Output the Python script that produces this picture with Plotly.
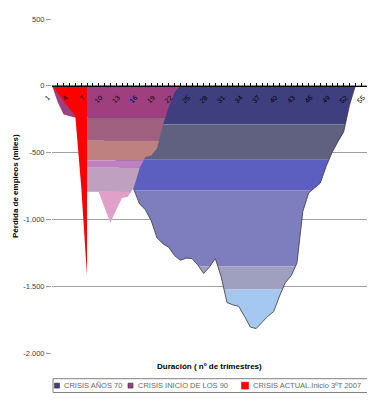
import plotly.graph_objects as go

# ---------------- data (thousands of jobs lost, by quarter of duration) ----------------
crisis70_q = list(range(1, 54))
crisis70 = [0, -30, -60, -90, -130, -170, -220, -280, -340, -410,
            -480, -560, -640, -710, -773, -883, -928, -1009, -1138, -1182,
            -1208, -1271, -1306, -1290, -1293, -1341, -1405, -1356, -1293, -1430,
            -1622, -1640, -1651, -1725, -1806, -1817, -1770, -1725, -1690, -1574,
            -1474, -1422, -1326, -940, -802, -765, -728, -603, -500, -418,
            -345, -145, 0]

crisis90_q = list(range(1, 24))
crisis90 = [0, -125, -215, -225, -235, -300, -793, -793, -793, -910,
            -1026, -930, -840, -830, -765, -617, -532, -522, -470, -295,
            -160, -50, 0]

actual_q = list(range(1, 8))
actual = [0, -55, -112, -170, -227, -750, -1420]

series_names = ["CRISIS AÑOS 70", "CRISIS INICIO DE LOS 90", "CRISIS ACTUAL.Inicio 3ºT 2007"]

y_ticks = [-2000, -1500, -1000, -500, 0, 500]
y_ticktext = ["-2.000", "-1.500", "-1.000", "-500", "0", "500"]

# ---------------- styling ----------------
bands70 = [(0, -289, "#3f3f7f"), (-289, -553, "#606080"), (-553, -781, "#5c5fbf"),
           (-781, -1352, "#7e7ebe"), (-1352, -1524, "#9f9fbf"), (-1524, -1e9, "#a4c8f0")]
bands90 = [(0, -239, "#9f3f80"), (-239, -411, "#a06080"), (-411, -559, "#bf8080"),
           (-559, -613, "#c080c0"), (-613, -795, "#c0a0c0"), (-795, -1e9, "#e0a0c8")]
RED = "#ff0000"
FONT = "Liberation Sans"


def band_polygon(xs, ys, top, bot):
    px, py = [xs[0]], [ys[0]]
    for i in range(len(xs) - 1):
        x0, y0, x1, y1 = xs[i], ys[i], xs[i + 1], ys[i + 1]
        levels = sorted([top, bot], reverse=(y1 < y0))
        for lvl in levels:
            if (y0 - lvl) * (y1 - lvl) < 0:
                t = (lvl - y0) / (y1 - y0)
                px.append(x0 + t * (x1 - x0))
                py.append(lvl)
        px.append(x1)
        py.append(y1)
    clipped = [min(top, max(v, bot)) for v in py]
    return px + px[::-1], clipped + [top] * len(px)


fig = go.Figure()


def add_banded(xs, ys, bands):
    for top, bot, col in bands:
        bx, by = band_polygon(xs, ys, top, bot)
        fig.add_trace(go.Scatter(x=bx, y=by, fill="toself", fillcolor=col, mode="lines",
                                 line=dict(width=0, color=col), hoverinfo="skip",
                                 showlegend=False))


add_banded(crisis70_q, crisis70, bands70)
fig.add_trace(go.Scatter(x=crisis70_q, y=crisis70, mode="lines",
                         line=dict(color="#3a3a3a", width=0.8), hoverinfo="skip",
                         showlegend=False))
add_banded(crisis90_q, crisis90, bands90)
fig.add_trace(go.Scatter(x=actual_q, y=actual, fill="tozeroy", fillcolor=RED, mode="lines",
                         line=dict(width=0, color=RED), hoverinfo="skip", showlegend=False))

# ---------------- layout ----------------
# the page body has an 8px margin, so the figure is drawn offset by 8px
OFF = 8
W, H = 375 - OFF, 400 - OFF
L, T, R, B = 52 - OFF, 15 - OFF, 8, 47
pw, ph = W - L - R, H - T - B


def pxx(px):  # page pixel x -> paper
    return (px - OFF - L) / pw


def pyy(py):  # page pixel y -> paper
    return (H - B - (py - OFF)) / ph


fig.update_layout(
    width=W, height=H, autosize=False,
    margin=dict(l=L, r=R, t=T, b=B),
    paper_bgcolor="white", plot_bgcolor="white",
    showlegend=False,
    font=dict(family=FONT, color="black"),
    xaxis=dict(range=[1, 55], anchor="free", position=2000 / 2500,
               showline=True, linecolor="black", linewidth=1,
               tickmode="linear", tick0=1, dtick=3,
               ticks="inside", ticklen=3, tickcolor="black",
               tickangle=-45, tickfont=dict(size=7, color="black", family=FONT),
               ticklabelstandoff=4, ticklabelshift=-4,
               showgrid=False, zeroline=False,
               minor=dict(tick0=1, dtick=1, ticks="inside", ticklen=3,
                          tickcolor="black", showgrid=False)),
    yaxis=dict(range=[-2000, 500], tickmode="array", tickvals=y_ticks, ticktext=y_ticktext,
               showgrid=True, gridcolor="#a0a0a0", gridwidth=1, zeroline=False,
               showline=False, ticks="outside", ticklen=5, tickcolor="#a0a0a0",
               tickfont=dict(size=7.5, color="#404040", family=FONT)),
)

annotations = [
    dict(text="<b>Pérdida de empleos (miles)</b>", x=pxx(15), y=pyy(184), xref="paper",
         yref="paper", xanchor="center", yanchor="middle", textangle=-90,
         showarrow=False, font=dict(size=8, color="black")),
    dict(text="<b>Duración ( nº de trimestres)</b>", x=pxx(209), y=pyy(367), xref="paper",
         yref="paper", xanchor="center", yanchor="middle",
         showarrow=False, font=dict(size=8, color="black")),
]

shapes = [dict(type="rect", xref="paper", yref="paper", x0=pxx(53), x1=pxx(368),
               y0=pyy(393), y1=pyy(379), line=dict(color="#808080", width=1),
               fillcolor="white", layer="below")]

legend_items = [
    (57, 62, "#3f3f7f", 5, series_names[0]),
    (130.5, 136, "#9f3f80", 5, series_names[1]),
    (245, 251, RED, 7, series_names[2]),
]
for cx, tx, col, size, name in legend_items:
    cy = 386
    shapes.append(dict(type="rect", xref="paper", yref="paper",
                       x0=pxx(cx - size / 2), x1=pxx(cx + size / 2),
                       y0=pyy(cy + size / 2), y1=pyy(cy - size / 2),
                       line=dict(color="#303030" if col != RED else RED, width=0.6),
                       fillcolor=col))
    annotations.append(dict(text=name, x=pxx(tx), y=pyy(cy), xref="paper", yref="paper",
                            xanchor="left", yanchor="middle", showarrow=False,
                            font=dict(size=7.5, color="#6a6a6a", family=FONT)))

fig.update_layout(annotations=annotations, shapes=shapes)

fig.write_html("out.html")
